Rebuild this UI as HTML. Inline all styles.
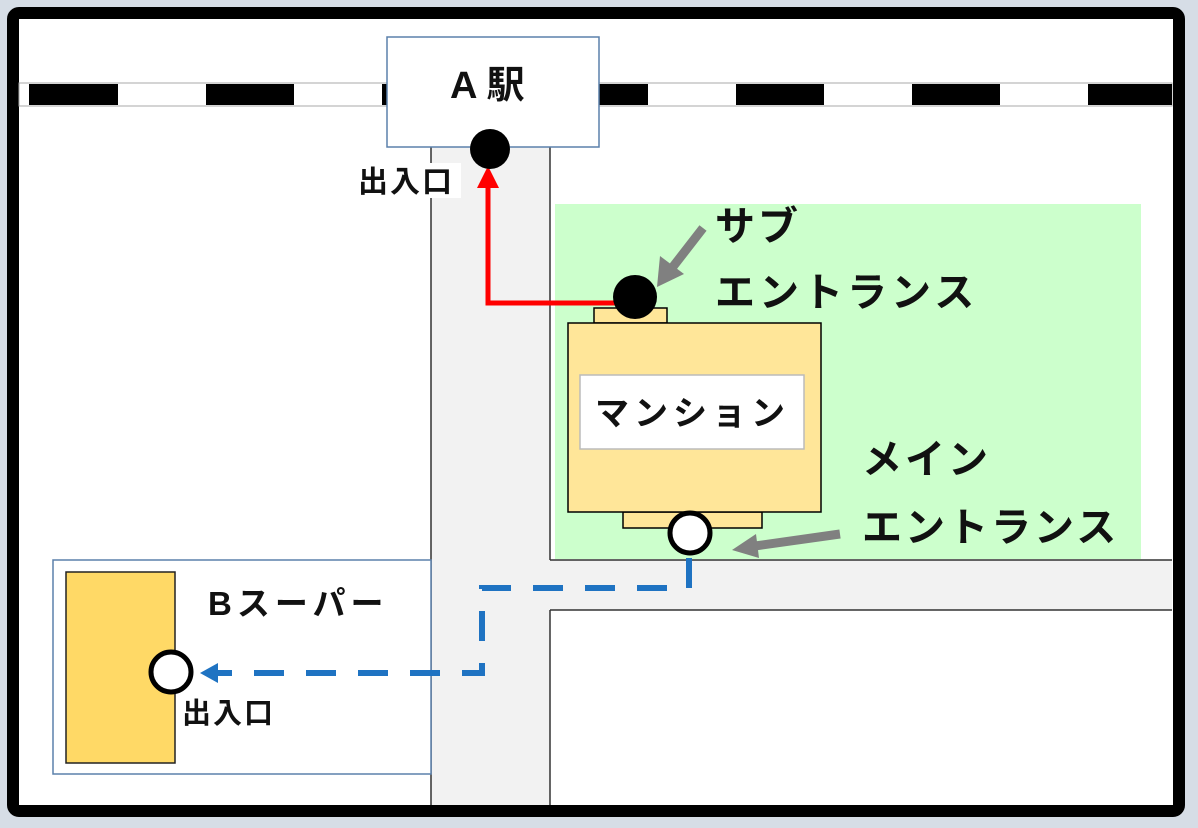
<!DOCTYPE html>
<html><head><meta charset="utf-8"><style>
html,body{margin:0;padding:0;background:#d6dde6;}
svg{display:block;}
text{font-family:"Liberation Sans","Noto Sans CJK JP",sans-serif;font-weight:bold;fill:#111;}
</style></head><body>
<svg width="1198" height="828" viewBox="0 0 1198 828" xmlns="http://www.w3.org/2000/svg">
<rect x="0" y="0" width="1198" height="828" fill="#d6dde6"/>
<rect x="13" y="13" width="1166" height="798" rx="6" fill="#fff" stroke="#000" stroke-width="12"/>
<rect x="19" y="83" width="1153" height="23" fill="#fff" stroke="#aaa" stroke-width="1"/>
<g fill="#000">
<rect x="29" y="84" width="89" height="21"/><rect x="206" y="84" width="88" height="21"/><rect x="382" y="84" width="88" height="21"/>
<rect x="560" y="84" width="88" height="21"/><rect x="736" y="84" width="88" height="21"/><rect x="912" y="84" width="88" height="21"/><rect x="1088" y="84" width="84" height="21"/>
</g>
<rect x="431" y="147" width="119" height="658" fill="#f2f2f2"/>
<rect x="550" y="560" width="622" height="50" fill="#f2f2f2"/>
<line x1="431" y1="147" x2="431" y2="805" stroke="#333" stroke-width="1.5"/>
<line x1="550" y1="147" x2="550" y2="560" stroke="#333" stroke-width="1.5"/>
<line x1="550" y1="560" x2="1172" y2="560" stroke="#333" stroke-width="1.5"/>
<line x1="550" y1="805" x2="550" y2="610" stroke="#333" stroke-width="1.5"/>
<line x1="550" y1="610" x2="1172" y2="610" stroke="#333" stroke-width="1.5"/>
<rect x="387" y="37" width="212" height="110" fill="#fff" stroke="#5b80ab" stroke-width="1.5"/>
<text x="450" y="98" font-size="38">A 駅</text>
<rect x="358" y="163" width="103" height="35" fill="#fff"/>
<text x="358" y="192" font-size="30" letter-spacing="2">出入口</text>
<rect x="555" y="204" width="586" height="355" fill="#ccffcc"/>
<rect x="594" y="308" width="73" height="15" fill="#ffe699" stroke="#000" stroke-width="1.5"/>
<rect x="623" y="512" width="139" height="16" fill="#ffe699" stroke="#000" stroke-width="1.5"/>
<rect x="568" y="323" width="253" height="189" fill="#ffe699" stroke="#000" stroke-width="1.5"/>
<rect x="580" y="375" width="224" height="74" fill="#fff" stroke="#bbb" stroke-width="1.5"/>
<text x="595" y="425" font-size="34" letter-spacing="5">マンション</text>
<polyline points="615,303 488,303 488,186" fill="none" stroke="#ff0000" stroke-width="5"/>
<polygon points="488,166 477,188 499,188" fill="#ff0000"/>
<circle cx="490" cy="149" r="20" fill="#000"/>
<circle cx="635" cy="297" r="22" fill="#000"/>
<line x1="703" y1="228" x2="672" y2="268" stroke="#808080" stroke-width="9"/>
<polygon points="657,287 660,256 684,274" fill="#808080"/>
<line x1="840" y1="534" x2="755" y2="546" stroke="#808080" stroke-width="9"/>
<polygon points="732,550 756,534 759,558" fill="#808080"/>
<text x="715" y="240" font-size="40" letter-spacing="3">サブ</text>
<text x="715" y="306" font-size="40" letter-spacing="4">エントランス</text>
<text x="862" y="473" font-size="40" letter-spacing="3">メイン</text>
<text x="862" y="541" font-size="40" letter-spacing="3">エントランス</text>
<rect x="53" y="560" width="378" height="214" fill="#fff" stroke="#5b80ab" stroke-width="1.5"/>
<rect x="66" y="572" width="109" height="191" fill="#ffd966" stroke="#222" stroke-width="1.5"/>
<text x="208" y="615" font-size="33" letter-spacing="5">Bスーパー</text>
<text x="182" y="723" font-size="29" letter-spacing="2">出入口</text>
<polyline points="689,558 689,588 482,588 482,673 215,673" fill="none" stroke="#1f73c2" stroke-width="6" stroke-dasharray="30,22"/>
<polygon points="200,673 218,663 218,683" fill="#1f73c2"/>
<circle cx="690" cy="533" r="20" fill="#fff" stroke="#000" stroke-width="5"/>
<circle cx="171" cy="672" r="20" fill="#fff" stroke="#000" stroke-width="5"/>
</svg>
</body></html>
